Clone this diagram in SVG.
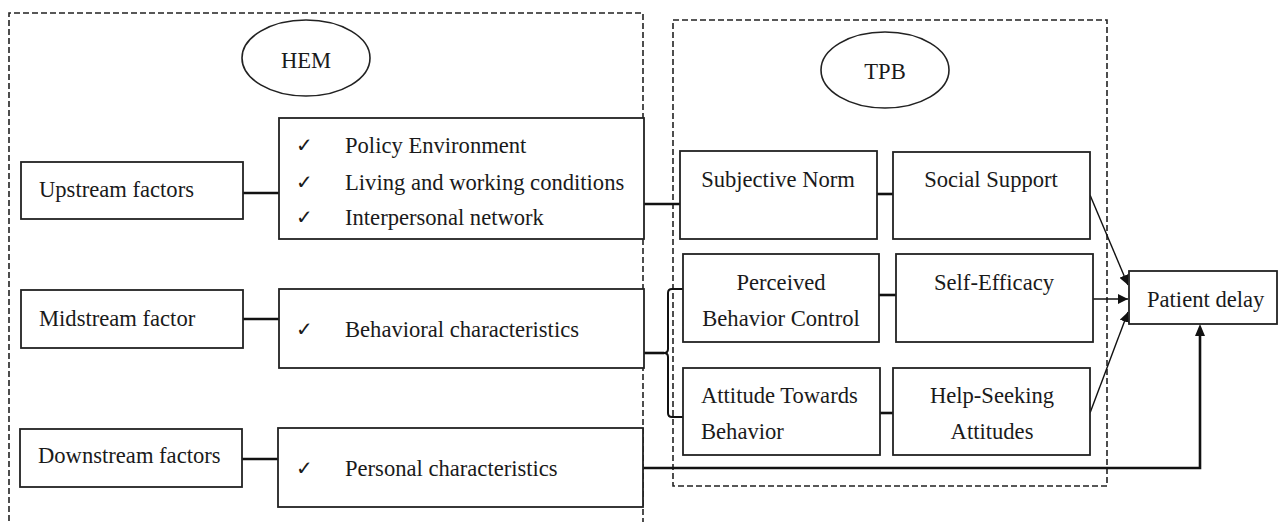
<svg xmlns="http://www.w3.org/2000/svg" width="1280" height="522" viewBox="0 0 1280 522">
<style>
text{font-family:"Liberation Serif","Times New Roman",serif;font-size:22.6px;fill:#1a1a1a}
.c{text-anchor:middle}
.chk{font-family:"DejaVu Sans",sans-serif;font-size:20px}
.box{fill:#fff;stroke:#222;stroke-width:1.8}
.dash{fill:none;stroke:#222;stroke-width:1.6;stroke-dasharray:6,3}
.ell{fill:#fff;stroke:#222;stroke-width:1.6}
.lk{fill:none;stroke:#111;stroke-width:2.6}
.ar{fill:none;stroke:#111;stroke-width:1.4}
</style>
<defs>
<marker id="ah" viewBox="0 0 10 10" refX="10" refY="5" markerWidth="10" markerHeight="10" markerUnits="userSpaceOnUse" orient="auto">
<path d="M0,0 L10,5 L0,10 z" fill="#111"/>
</marker>
</defs>
<rect width="1280" height="522" fill="#fff"/>
<g id="hem-frame">
<path class="dash" d="M9,530 V13 H643 V530"/>
</g>
<g id="tpb-frame">
<rect class="dash" x="673" y="20" width="434" height="466"/>
</g>
<g id="hem">
<ellipse class="ell" cx="306" cy="58" rx="64" ry="38"/>
<text class="c" x="306" y="68">HEM</text>
</g>
<g id="tpb">
<ellipse class="ell" cx="885" cy="70" rx="64" ry="38"/>
<text class="c" x="885" y="79">TPB</text>
</g>
<g id="connectors">
<line class="lk" x1="243" y1="193" x2="279" y2="193"/>
<line class="lk" x1="243" y1="319" x2="279" y2="319"/>
<line class="lk" x1="242" y1="459" x2="278" y2="459"/>
<line class="lk" x1="644" y1="204" x2="680" y2="204"/>
<line class="lk" x1="877" y1="194" x2="893" y2="194"/>
<line class="lk" x1="879" y1="295" x2="896" y2="295"/>
<line class="lk" x1="880" y1="413" x2="893" y2="413"/>
<line class="lk" x1="643" y1="353" x2="664" y2="353"/>
<path class="ar" style="stroke-width:2" d="M683,289 H672 Q668,289 668,293 V349 Q668,353 664,353 Q668,353 668,357 V413 Q668,417 672,417 H683"/>
<path class="ar" d="M1090,195 L1128,285" marker-end="url(#ah)"/>
<path class="ar" d="M1093,299 L1128,299" marker-end="url(#ah)"/>
<path class="ar" d="M1090,413 L1128,312" marker-end="url(#ah)"/>
<path class="lk" d="M643,468 H1200 V336"/>
<path d="M1200,324 L1195,336 L1205,336 z" fill="#111"/>
</g>
<g id="upstream">
<rect class="box" x="21" y="162" width="222" height="57"/>
<text x="39" y="197">Upstream factors</text>
</g>
<g id="upstream-list">
<rect class="box" x="279" y="118" width="365" height="121"/>
<text class="chk" x="296" y="152">✓</text>
<text x="345" y="153">Policy Environment</text>
<text class="chk" x="296" y="189">✓</text>
<text x="345" y="190">Living and working conditions</text>
<text class="chk" x="296" y="224">✓</text>
<text x="345" y="225">Interpersonal network</text>
</g>
<g id="midstream">
<rect class="box" x="21" y="290" width="222" height="58"/>
<text x="39" y="326">Midstream factor</text>
</g>
<g id="midstream-list">
<rect class="box" x="279" y="289" width="365" height="79"/>
<text class="chk" x="296" y="336">✓</text>
<text x="345" y="337">Behavioral characteristics</text>
</g>
<g id="downstream">
<rect class="box" x="20" y="429" width="222" height="58"/>
<text x="38" y="463">Downstream factors</text>
</g>
<g id="downstream-list">
<rect class="box" x="278" y="428" width="365" height="79"/>
<text class="chk" x="296" y="475">✓</text>
<text x="345" y="476">Personal characteristics</text>
</g>
<g id="subjective-norm">
<rect class="box" x="680" y="151" width="197" height="88"/>
<text class="c" x="778" y="187">Subjective Norm</text>
</g>
<g id="social-support">
<rect class="box" x="893" y="152" width="197" height="87"/>
<text class="c" x="991" y="187">Social Support</text>
</g>
<g id="pbc">
<rect class="box" x="683" y="254" width="196" height="88"/>
<text class="c" x="781" y="290">Perceived</text>
<text class="c" x="781" y="326">Behavior Control</text>
</g>
<g id="self-efficacy">
<rect class="box" x="896" y="254" width="197" height="88"/>
<text class="c" x="994" y="290">Self-Efficacy</text>
</g>
<g id="attitude">
<rect class="box" x="683" y="368" width="197" height="87"/>
<text x="701" y="403">Attitude Towards</text>
<text x="701" y="439">Behavior</text>
</g>
<g id="help-seeking">
<rect class="box" x="893" y="368" width="197" height="87"/>
<text class="c" x="992" y="403">Help-Seeking</text>
<text class="c" x="992" y="439">Attitudes</text>
</g>
<g id="patient-delay">
<rect class="box" x="1129" y="271" width="148" height="53"/>
<text x="1147" y="307">Patient delay</text>
</g>
</svg>
